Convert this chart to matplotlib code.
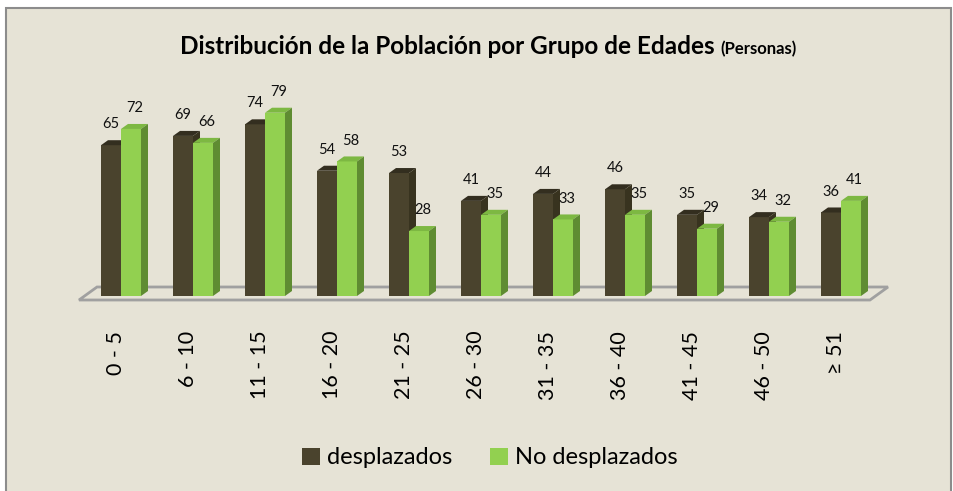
import matplotlib.pyplot as plt
from matplotlib.patches import Polygon, Rectangle, Patch

# Data
grupos = ['0 - 5', '6 - 10', '11 - 15', '16 - 20', '21 - 25', '26 - 30',
          '31 - 35', '36 - 40', '41 - 45', '46 - 50', '≥ 51']
desplazados = [65, 69, 74, 54, 53, 41, 44, 46, 35, 34, 36]
no_desplazados = [72, 66, 79, 58, 28, 35, 33, 35, 29, 32, 41]

# Colours (front, top, side)
c_dark = ('#4A432D', '#332E1F', '#38331F')
c_green = ('#92D050', '#7DB842', '#5F8C32')
bg = '#E6E3D6'
font = 'Lato'

W, H = 954, 491
fig = plt.figure(figsize=(W / 100, H / 100), dpi=100)
fig.patch.set_facecolor('white')

# beige panel with grey border
fig.patches.append(Rectangle((6 / W, -0.01), 945 / W, (H - 8) / H + 0.01,
                             transform=fig.transFigure, facecolor=bg,
                             edgecolor='#8C8C8C', linewidth=1.5, zorder=-10))

# axes placed in pixel terms: baseline at y=296, group 0 centre at x=121, 72 px per group
ppx_x = 72.0
ppx_y = 2.32
ax_l, ax_r, ax_t, ax_b = 60, 900, 80, 310
ax = fig.add_axes([ax_l / W, (H - ax_b) / H, (ax_r - ax_l) / W, (ax_b - ax_t) / H])
ax.set_facecolor('none')
ax.set_xlim((ax_l - 121) / ppx_x, (ax_r - 121) / ppx_x)
ax.set_ylim(-(ax_b - 296) / ppx_y, (296 - ax_t) / ppx_y)
for s in ax.spines.values():
    s.set_visible(False)
ax.set_yticks([])

bw = 20 / ppx_x
dx = 7 / ppx_x
dy = 5 / ppx_y

# floor outline
fx0, fx1 = -42 / ppx_x, 749 / ppx_x
fy0, fy1 = -4 / ppx_y, 9 / ppx_y
fdx = 18 / ppx_x
floor = Polygon([(fx0, fy0), (fx1, fy0), (fx1 + fdx, fy1), (fx0 + fdx, fy1)],
                closed=True, facecolor='none', edgecolor='#A0A0A0', linewidth=2, zorder=1)
ax.add_patch(floor)


def bar3d(x, h, cols, z):
    x0, x1 = x - bw / 2, x + bw / 2
    ax.bar(x, h, width=bw, color=cols[0], zorder=z, linewidth=0)
    ax.add_patch(Polygon([(x0, h), (x1, h), (x1 + dx, h + dy), (x0 + dx, h + dy)],
                         closed=True, facecolor=cols[1], linewidth=0, zorder=z))
    ax.add_patch(Polygon([(x1, 0), (x1 + dx, dy), (x1 + dx, h + dy), (x1, h)],
                         closed=True, facecolor=cols[2], linewidth=0, zorder=z))


for i, (a, b) in enumerate(zip(desplazados, no_desplazados)):
    xa = i - bw / 2
    xb = i + bw / 2
    bar3d(xa, a, c_dark, 2 + i * 0.01)
    bar3d(xb, b, c_green, 3 + i * 0.01)
    ax.annotate(str(a), (xa, a), xytext=(0, 10), textcoords='offset points',
                ha='center', va='bottom', fontsize=10.5, family=font, color='#111111')
    ax.annotate(str(b), (xb + dx / 2, b), xytext=(0, 10), textcoords='offset points',
                ha='center', va='bottom', fontsize=10.5, family=font, color='#111111')

ax.set_xticks([i - 5 / ppx_x for i in range(len(grupos))])
ax.set_xticklabels(grupos, rotation=90, fontsize=15.5, family=[font, 'DejaVu Sans'],
                   va='top', ha='center')
ax.tick_params(axis='x', length=0, pad=15)

# title in two pieces
t1 = fig.text(0, (H - 54) / H, 'Distribución de la Población por Grupo de Edades',
              fontsize=17.5, fontweight='bold', family=font, va='baseline', ha='left')
t2 = fig.text(0, (H - 54) / H, '(Personas)', fontsize=12, fontweight='bold',
              family=font, va='baseline', ha='left')
fig.canvas.draw()
r = fig.canvas.get_renderer()
w1 = t1.get_window_extent(r).width
w2 = t2.get_window_extent(r).width
gap = 6
start = 488 - (w1 + gap + w2) / 2
t1.set_x(start / W)
t2.set_x((start + w1 + gap) / W)

handles = [Patch(facecolor=c_dark[0]), Patch(facecolor=c_green[0])]
fig.legend(handles, ['desplazados', 'No desplazados'], loc='center',
           bbox_to_anchor=(490 / W, (H - 458) / H), ncol=2, frameon=False,
           prop={'family': font, 'size': 17}, handlelength=0.75, handleheight=0.75,
           handletextpad=0.3, columnspacing=1.6)

fig.savefig('out.png', dpi=100, facecolor=fig.get_facecolor())
